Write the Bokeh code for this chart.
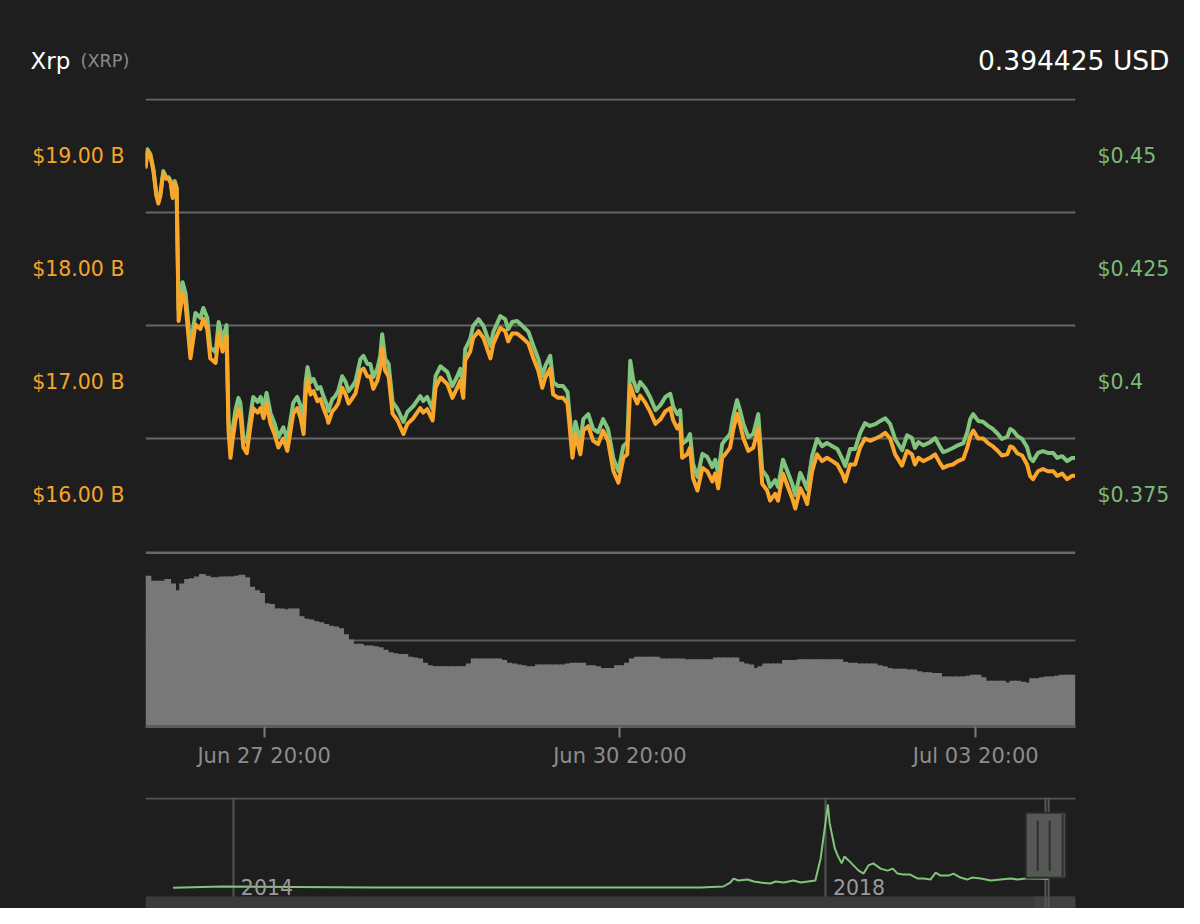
from datetime import datetime, timedelta

from bokeh.plotting import figure
from bokeh.layouts import column
from bokeh.models import (Range1d, LinearAxis, FixedTicker, CustomJSTickFormatter,
                          DatetimeTickFormatter, Label, Span, BoxAnnotation, Grid)
from bokeh.core.properties import value
from bokeh.embed import file_html
from bokeh.resources import INLINE

# ---------------------------------------------------------------- data
# hours after 2019-06-26 20:00 (UTC)
price_hours = [
    0, 0.4, 1.0, 1.6, 2.2, 2.6, 3.0, 3.6, 4.2, 4.7,
    5.1, 5.5, 5.9, 6.3, 6.7, 7.5, 8.1, 9.1, 10.1, 11.1,
    11.7, 12.5, 13.1, 14.2, 14.8, 15.6, 16.4, 16.8, 17.2, 17.6,
    18.2, 18.8, 19.2, 19.8, 20.5, 21.3, 21.8, 22.7, 23.3, 23.9,
    24.5, 25.3, 26.1, 26.9, 27.9, 28.7, 29.9, 30.7, 31.4, 32.0,
    32.4, 32.8, 33.4, 34.0, 34.8, 35.4, 36.0, 36.8, 37.0, 37.8,
    38.4, 39.0, 39.8, 40.5, 41.1, 41.9, 42.5, 43.5, 44.1, 44.9,
    45.5, 46.1, 46.9, 47.5, 47.9, 48.5, 49.2, 50.0, 51.0, 52.2,
    53.0, 54.2, 55.6, 56.2, 57.0, 58.1, 58.7, 59.7, 61.1, 62.1,
    63.1, 63.7, 64.3, 64.7, 65.7, 66.3, 67.4, 68.4, 69.8, 70.4,
    71.8, 72.8, 73.4, 74.2, 75.2, 76.3, 77.5, 78.5, 79.5, 80.3,
    80.9, 81.9, 82.5, 83.5, 84.5, 85.4, 86.4, 87.0, 88.0, 88.6,
    89.6, 90.6, 91.6, 92.6, 93.6, 94.7, 95.7, 96.7, 97.5, 98.1,
    98.7, 99.5, 100.1, 101.1, 102.1, 103.2, 104.2, 105.2, 106.2, 106.8,
    107.6, 108.2, 108.6, 109.6, 110.2, 110.8, 111.7, 112.7, 113.7, 114.7,
    115.3, 115.9, 116.7, 117.3, 118.3, 118.9, 119.7, 120.3, 121.0, 122.0,
    123.0, 124.0, 124.8, 125.8, 126.4, 127.4, 128.0, 129.0, 130.1, 130.9,
    131.5, 132.5, 133.1, 133.9, 134.9, 135.9, 136.9, 137.9, 139.0, 140.0,
    141.0, 141.6, 142.6, 143.6, 144.6, 145.6, 146.6, 147.7, 148.7, 149.7,
    150.7, 151.7, 153.1, 154.1, 155.1, 155.7, 156.4, 157.4, 158.8, 159.8,
    160.8, 161.4, 162.4, 163.4, 164.4, 165.5, 166.3, 166.9, 167.5, 168.5,
    169.5, 170.5, 171.5, 172.5, 173.3, 174.4, 175.0, 175.6, 176.4, 177.4,
    178.4, 179.0, 179.6, 180.6, 181.6, 182.6, 183.7, 184.5, 185.5, 186.5,
    187.5, 188.1,
]

# market cap, billions USD (left axis, orange)
market_cap = [
    18.89, 19.04, 19.00, 18.87, 18.65, 18.58, 18.65, 18.85, 18.80, 18.80,
    18.76, 18.63, 18.76, 18.71, 17.54, 17.79, 17.69, 17.21, 17.51, 17.47,
    17.56, 17.47, 17.21, 17.17, 17.43, 17.27, 17.41, 16.57, 16.33, 16.48,
    16.66, 16.76, 16.72, 16.42, 16.37, 16.63, 16.77, 16.73, 16.77, 16.68,
    16.81, 16.63, 16.54, 16.42, 16.50, 16.39, 16.72, 16.77, 16.68, 16.54,
    16.89, 17.03, 16.89, 16.92, 16.83, 16.85, 16.77, 16.68, 16.64, 16.74,
    16.77, 16.81, 16.95, 16.89, 16.81, 16.86, 16.90, 17.10, 17.12, 17.05,
    17.05, 16.94, 17.01, 17.12, 17.30, 17.10, 17.05, 16.72, 16.66, 16.54,
    16.63, 16.68, 16.77, 16.73, 16.76, 16.66, 16.95, 17.04, 16.98, 16.86,
    16.95, 17.01, 16.86, 17.19, 17.27, 17.39, 17.45, 17.39, 17.21, 17.34,
    17.48, 17.45, 17.36, 17.43, 17.43, 17.39, 17.34, 17.21, 17.10, 16.95,
    17.04, 17.12, 16.89, 16.86, 16.86, 16.81, 16.33, 16.54, 16.36, 16.57,
    16.61, 16.48, 16.45, 16.57, 16.48, 16.21, 16.11, 16.33, 16.36, 16.97,
    16.89, 16.81, 16.88, 16.82, 16.74, 16.63, 16.67, 16.74, 16.77, 16.66,
    16.59, 16.63, 16.33, 16.36, 16.42, 16.15, 16.04, 16.24, 16.21, 16.12,
    16.19, 16.06, 16.33, 16.36, 16.42, 16.57, 16.72, 16.63, 16.50, 16.39,
    16.42, 16.59, 16.10, 16.04, 15.95, 16.01, 15.95, 16.19, 16.06, 15.97,
    15.88, 16.06, 16.01, 15.92, 16.21, 16.36, 16.30, 16.33, 16.30, 16.27,
    16.19, 16.12, 16.27, 16.27, 16.42, 16.50, 16.48, 16.50, 16.52, 16.55,
    16.50, 16.36, 16.26, 16.39, 16.36, 16.27, 16.33, 16.30, 16.33, 16.36,
    16.28, 16.24, 16.26, 16.27, 16.30, 16.32, 16.42, 16.52, 16.57, 16.50,
    16.50, 16.46, 16.43, 16.39, 16.35, 16.36, 16.43, 16.42, 16.37, 16.35,
    16.27, 16.17, 16.14, 16.21, 16.23, 16.21, 16.21, 16.17, 16.19, 16.14,
    16.17, 16.17,
]

# price, USD (right axis, green)
price_usd = [
    0.4478, 0.4515, 0.4504, 0.4471, 0.4416, 0.4400, 0.4416, 0.4467, 0.4453, 0.4453,
    0.4445, 0.4411, 0.4445, 0.4431, 0.4159, 0.4221, 0.4197, 0.4077, 0.4153, 0.4142,
    0.4164, 0.4142, 0.4077, 0.4066, 0.4133, 0.4093, 0.4126, 0.3916, 0.3856, 0.3894,
    0.3938, 0.3965, 0.3954, 0.3878, 0.3867, 0.3931, 0.3967, 0.3956, 0.3967, 0.3944,
    0.3976, 0.3931, 0.3909, 0.3878, 0.3900, 0.3872, 0.3954, 0.3967, 0.3947, 0.3912,
    0.4000, 0.4033, 0.4000, 0.4007, 0.3985, 0.3989, 0.3969, 0.3947, 0.3936, 0.3962,
    0.3969, 0.3980, 0.4013, 0.4000, 0.3980, 0.3991, 0.4002, 0.4051, 0.4058, 0.4040,
    0.4040, 0.4011, 0.4029, 0.4058, 0.4106, 0.4051, 0.4040, 0.3956, 0.3940, 0.3912,
    0.3934, 0.3947, 0.3969, 0.3958, 0.3967, 0.3940, 0.4013, 0.4035, 0.4022, 0.3991,
    0.4013, 0.4029, 0.3991, 0.4073, 0.4095, 0.4124, 0.4139, 0.4124, 0.4080, 0.4111,
    0.4146, 0.4139, 0.4117, 0.4133, 0.4135, 0.4124, 0.4111, 0.4080, 0.4051, 0.4013,
    0.4035, 0.4058, 0.4000, 0.3991, 0.3991, 0.3978, 0.3858, 0.3912, 0.3867, 0.3918,
    0.3929, 0.3896, 0.3889, 0.3918, 0.3896, 0.3830, 0.3803, 0.3858, 0.3867, 0.4047,
    0.4005, 0.3980, 0.4000, 0.3987, 0.3967, 0.3938, 0.3949, 0.3967, 0.3974, 0.3945,
    0.3929, 0.3938, 0.3863, 0.3872, 0.3885, 0.3819, 0.3790, 0.3841, 0.3834, 0.3812,
    0.3828, 0.3797, 0.3863, 0.3872, 0.3885, 0.3923, 0.3960, 0.3938, 0.3907, 0.3878,
    0.3885, 0.3929, 0.3805, 0.3790, 0.3768, 0.3783, 0.3768, 0.3828, 0.3797, 0.3774,
    0.3750, 0.3799, 0.3785, 0.3763, 0.3836, 0.3874, 0.3858, 0.3865, 0.3858, 0.3852,
    0.3830, 0.3814, 0.3852, 0.3852, 0.3887, 0.3909, 0.3903, 0.3907, 0.3914, 0.3920,
    0.3907, 0.3874, 0.3849, 0.3882, 0.3876, 0.3854, 0.3867, 0.3860, 0.3867, 0.3876,
    0.3856, 0.3845, 0.3849, 0.3854, 0.3860, 0.3865, 0.3889, 0.3918, 0.3929, 0.3914,
    0.3912, 0.3903, 0.3896, 0.3885, 0.3874, 0.3879, 0.3896, 0.3892, 0.3881, 0.3874,
    0.3856, 0.3832, 0.3825, 0.3843, 0.3847, 0.3843, 0.3843, 0.3832, 0.3836, 0.3825,
    0.3832, 0.3832,
]

# hourly volume bars (relative units), one per hour from 2019-06-26 20:00
volume = [
    1.75, 1.69, 1.69, 1.69, 1.71, 1.66, 1.58, 1.66, 1.71, 1.72,
    1.74, 1.77, 1.75, 1.73, 1.73, 1.74, 1.74, 1.74, 1.75, 1.76,
    1.73, 1.62, 1.58, 1.55, 1.43, 1.42, 1.37, 1.37, 1.36, 1.37,
    1.37, 1.28, 1.25, 1.24, 1.22, 1.21, 1.19, 1.17, 1.16, 1.14,
    1.07, 1.01, 0.96, 0.96, 0.94, 0.94, 0.93, 0.92, 0.89, 0.86,
    0.85, 0.84, 0.84, 0.81, 0.80, 0.79, 0.74, 0.71, 0.70, 0.70,
    0.70, 0.70, 0.70, 0.70, 0.70, 0.73, 0.79, 0.79, 0.79, 0.79,
    0.79, 0.79, 0.77, 0.74, 0.73, 0.72, 0.71, 0.70, 0.70, 0.72,
    0.72, 0.72, 0.72, 0.72, 0.72, 0.73, 0.74, 0.74, 0.74, 0.71,
    0.71, 0.70, 0.68, 0.68, 0.68, 0.71, 0.71, 0.74, 0.79, 0.81,
    0.81, 0.81, 0.81, 0.81, 0.79, 0.79, 0.79, 0.79, 0.79, 0.78,
    0.78, 0.78, 0.78, 0.78, 0.78, 0.80, 0.80, 0.80, 0.80, 0.80,
    0.75, 0.73, 0.72, 0.68, 0.70, 0.73, 0.73, 0.73, 0.73, 0.77,
    0.77, 0.77, 0.78, 0.78, 0.78, 0.78, 0.78, 0.78, 0.78, 0.78,
    0.78, 0.75, 0.74, 0.74, 0.73, 0.73, 0.73, 0.73, 0.71, 0.70,
    0.68, 0.67, 0.67, 0.67, 0.66, 0.66, 0.64, 0.63, 0.63, 0.62,
    0.62, 0.58, 0.58, 0.58, 0.58, 0.58, 0.59, 0.60, 0.60, 0.57,
    0.53, 0.53, 0.53, 0.53, 0.51, 0.53, 0.53, 0.52, 0.51, 0.56,
    0.56, 0.57, 0.58, 0.58, 0.59, 0.60, 0.60, 0.60,
]

# navigator: long-term price history (USD)
nav_dates = [
    "2013-08-04", "2013-12-04", "2014-12-18", "2017-02-26", "2017-04-23",
    "2017-05-10", "2017-05-18", "2017-05-30", "2017-06-22", "2017-07-07",
    "2017-07-24", "2017-08-17", "2017-08-30", "2017-09-19", "2017-10-13",
    "2017-10-31", "2017-12-06", "2017-12-19", "2017-12-29", "2018-01-06",
    "2018-01-10", "2018-01-18", "2018-01-23", "2018-01-30", "2018-02-09",
    "2018-02-16", "2018-02-26", "2018-03-10", "2018-03-23", "2018-04-04",
    "2018-04-16", "2018-04-28", "2018-05-16", "2018-06-02", "2018-06-15",
    "2018-06-27", "2018-07-11", "2018-07-28", "2018-08-16", "2018-08-30",
    "2018-09-16", "2018-09-29", "2018-10-11", "2018-10-31", "2018-11-12",
    "2018-11-29", "2018-12-16", "2018-12-28", "2019-01-18", "2019-02-12",
    "2019-03-08", "2019-04-02", "2019-04-19", "2019-05-09", "2019-05-16",
    "2019-07-04",
]
nav_price = [
    0.03, 0.08, 0.04, 0.04, 0.08, 0.24, 0.40, 0.32, 0.36, 0.28,
    0.24, 0.20, 0.28, 0.24, 0.32, 0.24, 0.32, 1.21, 2.41, 3.38,
    2.66, 2.01, 1.61, 1.33, 1.01, 1.29, 1.13, 0.93, 0.72, 0.60,
    0.93, 1.01, 0.80, 0.72, 0.80, 0.60, 0.56, 0.56, 0.40, 0.40,
    0.36, 0.64, 0.52, 0.52, 0.60, 0.44, 0.36, 0.44, 0.40, 0.32,
    0.36, 0.40, 0.36, 0.40, 0.40, 0.39,
]

mcap_ticks = [16, 17, 18, 19]
price_ticks = [0.375, 0.4, 0.425, 0.45]
time_ticks = ["2019-06-27 20:00", "2019-06-30 20:00", "2019-07-03 20:00"]
nav_year_ticks = ["2014-01-01", "2018-01-01"]
nav_year_labels = ["2014", "2018"]

title_name = "Xrp"
title_symbol = "(XRP)"
title_price = "0.394425 USD"

# ---------------------------------------------------------------- style
BG = "#1e1e1e"
ORANGE = "#f9a62b"
ORANGE_TXT = "#f5a42a"
GREEN = "#80c47d"
GREEN_TXT = "#7aba77"
GRID = "#666666"
BAR = "#787878"
FONT = "DejaVu Sans"
W = 1184


def ms(d):
    return (d - datetime(1970, 1, 1)).total_seconds() * 1000.0


def ms_s(s):
    fmt = "%Y-%m-%d %H:%M" if " " in s else "%Y-%m-%d"
    return ms(datetime.strptime(s, fmt))


def hide_grids(fig):
    for r in fig.center:
        if isinstance(r, Grid):
            r.visible = False


def base_fig(**kw):
    return figure(width=W, title=None, output_backend="svg", toolbar_location=None,
                  background_fill_color=None, border_fill_color=BG,
                  outline_line_color=None, **kw)


t0 = datetime(2019, 6, 26, 20, 0)
t_end = t0 + timedelta(hours=188.2)
price_t = [ms(t0 + timedelta(hours=h)) for h in price_hours]
vol_t = [ms(t0 + timedelta(hours=i + 0.5)) for i in range(len(volume))]
nav_t = [ms_s(s) for s in nav_dates]

# ---------------------------------------------------------------- header
HEAD_H = 95
h = base_fig(height=HEAD_H, x_range=Range1d(0, W), y_range=Range1d(HEAD_H, 0),
             x_axis_location=None, y_axis_location=None,
             min_border_left=0, min_border_right=0, min_border_top=0, min_border_bottom=0)
h.frame_align = False
hide_grids(h)
h.text(x=[30], y=[60], text=[title_name], text_color="#ffffff",
       text_font=value(FONT), text_font_size="23px",
       text_baseline="alphabetic", text_align="left")
h.text(x=[80], y=[60], text=[title_symbol], text_color="#8a8a8a",
       text_font=value(FONT), text_font_size="17.7px",
       text_baseline="alphabetic", text_align="left")
h.text(x=[1169], y=[60], text=[title_price], text_color="#ffffff",
       text_font=value(FONT), text_font_size="26.5px",
       text_baseline="alphabetic", text_align="right")

# ---------------------------------------------------------------- price pane
y_lo, y_hi = 15.50, 19.51
p = base_fig(height=551 - HEAD_H,
             x_range=Range1d(ms(t0), ms(t_end)), y_range=Range1d(y_lo, y_hi),
             x_axis_type="datetime", x_axis_location=None,
             min_border_left=145, min_border_right=109, min_border_top=3, min_border_bottom=0)
hide_grids(p)

ya = p.yaxis[0]
ya.ticker = FixedTicker(ticks=mcap_ticks)
ya.formatter = CustomJSTickFormatter(code="return '$' + tick.toFixed(2) + ' B';")
ya.axis_line_color = None
ya.major_tick_line_color = None
ya.minor_tick_line_color = None
ya.major_tick_out = 0
ya.major_tick_in = 0
ya.major_label_standoff = 21
ya.major_label_text_color = ORANGE_TXT
ya.major_label_text_font = FONT
ya.major_label_text_font_size = "20.5px"

p.add_layout(Grid(dimension=1, ticker=FixedTicker(ticks=[16.5, 17.5, 18.5, 19.5]),
                  grid_line_color=GRID, grid_line_width=2))

p.extra_y_ranges = {"price": Range1d((y_lo - 1) / 40.0, (y_hi - 1) / 40.0)}
ra = LinearAxis(y_range_name="price", ticker=FixedTicker(ticks=price_ticks),
                formatter=CustomJSTickFormatter(code="return '$' + tick;"))
ra.axis_line_color = None
ra.major_tick_line_color = None
ra.minor_tick_line_color = None
ra.major_tick_out = 0
ra.major_tick_in = 0
ra.major_label_standoff = 22
ra.major_label_text_color = GREEN_TXT
ra.major_label_text_font = FONT
ra.major_label_text_font_size = "20.5px"
p.add_layout(ra, "right")

p.line(price_t, price_usd, y_range_name="price", line_color=GREEN, line_width=4,
       line_join="round")
p.line(price_t, market_cap, line_color=ORANGE, line_width=4, line_join="round")

# ---------------------------------------------------------------- volume pane
v = base_fig(height=239, x_range=p.x_range, y_range=Range1d(0, 2.03),
             x_axis_type="datetime", y_axis_location=None,
             min_border_left=145, min_border_right=109, min_border_top=0, min_border_bottom=64)
hide_grids(v)
v.add_layout(Grid(dimension=1, ticker=FixedTicker(ticks=[1.0]),
                  grid_line_color="#5a5a5a", grid_line_width=2))
v.vbar(x=vol_t, top=volume, width=3600000 * 1.35, fill_color=BAR, line_color=None)
v.add_layout(Span(location=2.018, dimension="width", line_color="#686868", line_width=3))

xa = v.xaxis[0]
xa.ticker = FixedTicker(ticks=[ms_s(s) for s in time_ticks])
fmt = "%b %d %H:%M"
xa.formatter = DatetimeTickFormatter(microseconds=fmt, milliseconds=fmt, seconds=fmt,
                                     minsec=fmt, minutes=fmt, hourmin=fmt, hours=fmt,
                                     days=fmt, months=fmt, years=fmt)
xa.axis_line_color = "#5c5c5c"
xa.axis_line_width = 3
xa.major_tick_line_color = "#7a7a7a"
xa.major_tick_line_width = 2
xa.major_tick_out = 11
xa.major_tick_in = 0
xa.minor_tick_line_color = None
xa.major_label_standoff = 6
xa.major_label_text_color = "#8c8c8c"
xa.major_label_text_font = FONT
xa.major_label_text_font_size = "21px"

# ---------------------------------------------------------------- navigator
nav_start, nav_end = ms(datetime(2013, 5, 28)), ms(datetime(2019, 9, 9))
n = base_fig(height=118,
             x_range=Range1d(nav_start, nav_end), y_range=Range1d(-0.805, 3.662),
             x_axis_type="datetime", x_axis_location=None, y_axis_location=None,
             min_border_left=145, min_border_right=109, min_border_top=7, min_border_bottom=0)
hide_grids(n)
n.add_layout(Grid(dimension=0, ticker=FixedTicker(ticks=[ms_s(s) for s in nav_year_ticks]),
                  grid_line_color="#555555", grid_line_width=2))
n.add_layout(BoxAnnotation(bottom=-1.0, top=-0.322, fill_color="#3a3a3a", fill_alpha=1.0,
                           line_color=None, level="underlay"))
n.add_layout(BoxAnnotation(left=ms(datetime(2019, 5, 29)), bottom=-1.0, top=-0.322,
                           fill_color="#414141", fill_alpha=1.0, line_color=None,
                           level="underlay"))
n.add_layout(Span(location=3.62, dimension="width", line_color="#555555", line_width=2,
                  level="underlay"))
for t in (ms(t0), ms(t_end)):
    n.add_layout(Span(location=t, dimension="height", line_color="#565656", line_width=2,
                      level="underlay"))

n.line(nav_t, nav_price, line_color=GREEN, line_width=2)

sel_mid = t0 + (t_end - t0) / 2
n.rect(x=[ms(sel_mid - timedelta(days=3))], y=[1.74], width=40, height=65,
       width_units="screen", height_units="screen",
       fill_color="#565856", line_color="#2b2b2b", line_width=2)
n.rect(x=[ms(sel_mid - timedelta(days=23)), ms(sel_mid + timedelta(days=6.5))],
       y=[1.72, 1.72], width=2, height=50, width_units="screen", height_units="screen",
       fill_color="#2e2e2e", line_color=None)
n.rect(x=[ms(sel_mid + timedelta(days=38.5))], y=[1.74], width=2, height=62,
       width_units="screen", height_units="screen", fill_color="#2e2e2e", line_color=None)

for s, lab in zip(nav_year_ticks, nav_year_labels):
    n.add_layout(Label(x=ms_s(s), y=0, x_offset=7, y_offset=1, text=lab,
                       text_color="#9a9a9a", text_font=FONT, text_font_size="20.5px",
                       text_baseline="alphabetic", text_align="left"))

layout = column(h, p, v, n, spacing=0, styles={"background-color": BG})
open("out.html", "w").write(file_html(layout, INLINE))
